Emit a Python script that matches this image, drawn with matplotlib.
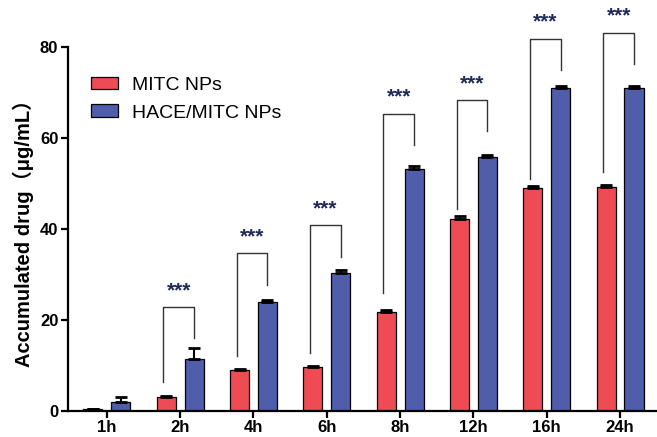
import numpy as np
import matplotlib
matplotlib.use('Agg')
import matplotlib.pyplot as plt

# data
times = ['1h', '2h', '4h', '6h', '8h', '12h', '16h', '24h']
mitc = [0.3, 3.0, 8.9, 9.6, 21.6, 42.2, 49.0, 49.2]
mitc_err = [0.1, 0.3, 0.3, 0.2, 0.6, 0.5, 0.3, 0.4]
hace = [1.9, 11.4, 23.8, 30.3, 53.1, 55.8, 70.9, 70.9]
hace_err = [1.1, 2.3, 0.6, 0.6, 0.6, 0.4, 0.4, 0.4]

# significance brackets (2h .. 24h): top, left leg end, right leg end
sig_idx = [1, 2, 3, 4, 5, 6, 7]
sig_top = [22.8, 34.7, 40.7, 65.3, 68.2, 81.8, 83.1]
sig_left = [6.3, 12.0, 12.7, 25.8, 44.3, 51.0, 52.5]
sig_right = [15.9, 27.7, 33.7, 58.4, 61.4, 74.8, 76.3]

red = '#EE4B55'
blue = '#4F5DAA'

plt.rcParams['font.family'] = ['Liberation Sans', 'Noto Sans CJK SC', 'DejaVu Sans']

fig = plt.figure(figsize=(6.57, 4.37), dpi=100)
ax = fig.add_axes([0.1035, 0.0606, 0.895, 0.8325])

x = np.arange(len(times))
w = 0.26
off = 0.19
zeros = np.zeros(len(times))

ax.bar(x - off, mitc, w, color=red, edgecolor='black', linewidth=0.9,
       label='MITC NPs', zorder=2)
ax.bar(x + off, hace, w, color=blue, edgecolor='black', linewidth=0.9,
       label='HACE/MITC NPs', zorder=2)
ax.errorbar(x - off, mitc, yerr=[zeros, mitc_err], fmt='none', ecolor='black',
            elinewidth=1.5, capsize=4.5, capthick=2, zorder=3)
ax.errorbar(x + off, hace, yerr=[zeros, hace_err], fmt='none', ecolor='black',
            elinewidth=1.5, capsize=4.5, capthick=2, zorder=3)

for i, top, lb, rb in zip(sig_idx, sig_top, sig_left, sig_right):
    xl = i - off - 0.04
    xr = i + off
    ax.plot([xl, xl, xr, xr], [lb, top, top, rb], color='#333333', lw=1.0,
            clip_on=False, zorder=4)
    ax.text((xl + xr) / 2, top + 1.5, '***', ha='center', va='bottom',
            fontsize=15, color='#1F2A5A', fontweight='bold', clip_on=False)

ax.set_xlim(-0.53, 7.49)
ax.set_ylim(0, 80)
ax.set_yticks([0, 20, 40, 60, 80])
ax.set_xticks(x)
ax.set_xticklabels(times)
for lab in ax.get_xticklabels() + ax.get_yticklabels():
    lab.set_fontweight('bold')
    lab.set_fontsize(12)

ax.spines['top'].set_visible(False)
ax.spines['right'].set_visible(False)
ax.spines['left'].set_linewidth(1.6)
ax.spines['bottom'].set_linewidth(1.6)
ax.tick_params(axis='both', width=1.6, length=5, pad=2)

ax.set_ylabel('Accumulated drug（μg/mL）', fontsize=14.5, fontweight='bold',
              labelpad=4)

ax.legend(loc='upper left', bbox_to_anchor=(0.009, 0.966), frameon=False,
          fontsize=14, handlelength=1.4, handleheight=0.62, labelspacing=0.55,
          handletextpad=0.72)

fig.savefig('out.png', dpi=100)
